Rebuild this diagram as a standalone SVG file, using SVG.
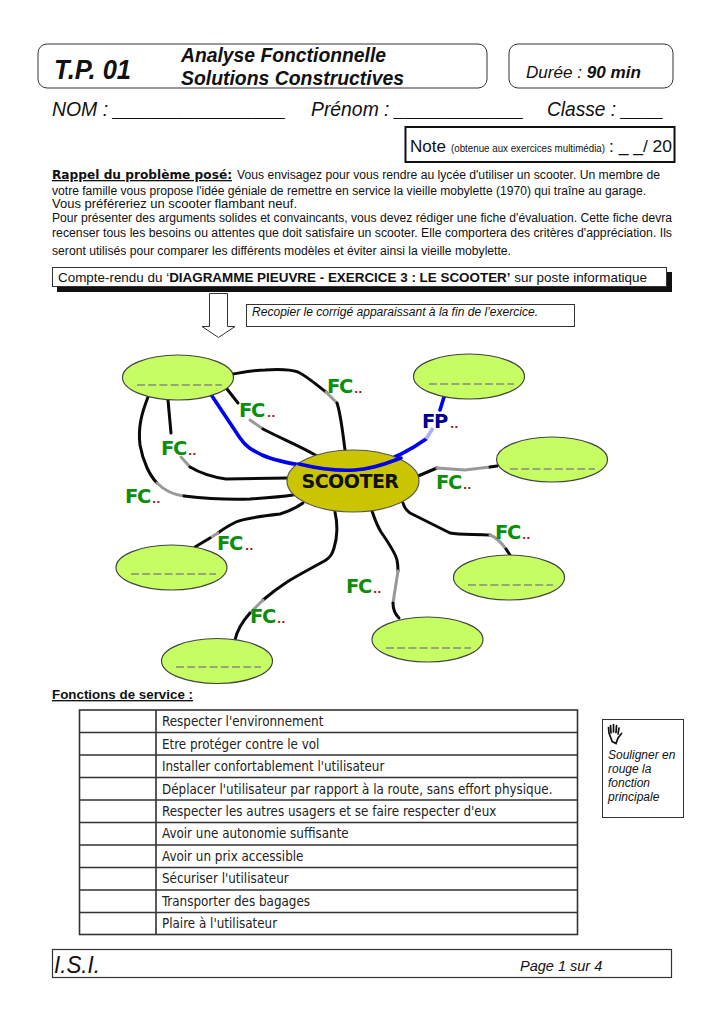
<svg xmlns="http://www.w3.org/2000/svg" width="724" height="1024" viewBox="0 0 724 1024">
<style>
text{font-family:"Liberation Sans",Arial,sans-serif;fill:#111}
.i{font-style:italic}.b{font-weight:bold}
.box{fill:#fff;stroke:#333;stroke-width:1}
.e{fill:#c6fd62;stroke:#444;stroke-width:1.2}
.d{stroke:#888;stroke-width:1.5;stroke-dasharray:8 3.2;fill:none}
.k{fill:none;stroke:#0a0a0a;stroke-width:3;stroke-linecap:round;stroke-linejoin:round}
.g{fill:none;stroke:#999;stroke-width:3;stroke-linecap:round;stroke-linejoin:round}
.bl{fill:none;stroke:#0000f0;stroke-width:3.6;stroke-linecap:round;stroke-linejoin:round}
.lb{fill:none;stroke:#a9b0f8;stroke-width:3.6}
.fc{font-family:"DejaVu Sans",sans-serif;font-weight:bold;font-size:19.5px;letter-spacing:-1.3px;fill:#0a8f0a}
.fp{font-family:"DejaVu Sans",sans-serif;font-weight:bold;font-size:19.5px;letter-spacing:-1.3px;fill:#00008f}
.dots{font-family:"DejaVu Sans",sans-serif;font-weight:bold;font-size:11px;fill:#a01818}
.t{font-family:"DejaVu Sans Condensed","DejaVu Sans",sans-serif;font-size:13.3px;fill:#222}
.row{stroke:#333;stroke-width:1.6;fill:none}
</style>
<rect width="724" height="1024" fill="#fff"/>

<g id="header">
<rect class="box" x="38" y="44" width="449" height="44" rx="9"/>
<rect class="box" x="509" y="44" width="164" height="44" rx="9"/>
<text class="i b" x="54" y="79" font-size="27" textLength="77" lengthAdjust="spacingAndGlyphs">T.P. 01</text>
<text class="i b" x="181" y="62" font-size="21" textLength="205" lengthAdjust="spacingAndGlyphs">Analyse Fonctionnelle</text>
<text class="i b" x="181" y="85" font-size="21" textLength="223" lengthAdjust="spacingAndGlyphs">Solutions Constructives</text>
<text class="i" x="526" y="78" font-size="16" textLength="115" lengthAdjust="spacingAndGlyphs">Durée : <tspan class="b">90 min</tspan></text>
<text class="i" x="52" y="116" font-size="21" textLength="234" lengthAdjust="spacingAndGlyphs">NOM : ________________</text>
<text class="i" x="311" y="116" font-size="21" textLength="213" lengthAdjust="spacingAndGlyphs">Prénom : ____________</text>
<text class="i" x="547" y="116" font-size="21" textLength="117" lengthAdjust="spacingAndGlyphs">Classe : ____</text>
</g>

<g id="note">
<rect x="405.500" y="127" width="269" height="35" fill="#fff" stroke="#111" stroke-width="2"/>
<text x="410" y="152" font-size="17" textLength="36" lengthAdjust="spacingAndGlyphs">Note</text>
<text x="451" y="152" font-size="10.500" textLength="154" lengthAdjust="spacingAndGlyphs">(obtenue aux exercices multimédia)</text>
<text x="609" y="152" font-size="17" textLength="63" lengthAdjust="spacingAndGlyphs">: _ _/ 20</text>
</g>

<g id="intro">
<text x="52" y="179" class="b" style="font-family:'DejaVu Sans',sans-serif" font-size="13" text-decoration="underline" textLength="180" lengthAdjust="spacingAndGlyphs">Rappel du problème posé:</text>
<text x="237" y="179" font-size="12.300" textLength="423" lengthAdjust="spacingAndGlyphs">Vous envisagez pour vous rendre au lycée d'utiliser un scooter. Un membre de</text>
<text x="52" y="195" font-size="12.300" textLength="594" lengthAdjust="spacingAndGlyphs">votre famille vous propose l'idée géniale de remettre en service la vieille mobylette (1970) qui traîne au garage.</text>
<text x="52" y="208" font-size="12.300" textLength="245" lengthAdjust="spacingAndGlyphs">Vous préféreriez un scooter flambant neuf.</text>
<text x="52" y="222" font-size="12.300" textLength="620" lengthAdjust="spacingAndGlyphs">Pour présenter des arguments solides et convaincants, vous devez rédiger une fiche d'évaluation. Cette fiche devra</text>
<text x="52" y="237" font-size="12.300" textLength="620" lengthAdjust="spacingAndGlyphs">recenser tous les besoins ou attentes que doit satisfaire un scooter. Elle comportera des critères d'appréciation. Ils</text>
<text x="52" y="255" font-size="12.300" textLength="459" lengthAdjust="spacingAndGlyphs">seront utilisés pour comparer les différents modèles et éviter ainsi la vieille mobylette.</text>
</g>

<g id="compte-rendu">
<rect x="57" y="272" width="615" height="20" fill="#111"/>
<rect class="box" x="52.500" y="267.500" width="614" height="19"/>
<text x="58" y="282" font-size="13.300" textLength="589" lengthAdjust="spacingAndGlyphs">Compte-rendu du ‘<tspan class="b">DIAGRAMME PIEUVRE - EXERCICE 3 : LE SCOOTER’</tspan> sur poste informatique</text>
</g>

<g id="arrow">
<path d="M209.500 293.500H227.500V326.500H235L218.500 337.500L202 326.500H209.500Z" fill="#fff" stroke="#333" stroke-width="1"/>
</g>

<g id="consigne">
<rect class="box" x="246.500" y="304.500" width="328" height="22" stroke="#666"/>
<text class="i" x="252" y="316" font-size="12" textLength="286" lengthAdjust="spacingAndGlyphs">Recopier le corrigé apparaissant à la fin de l’exercice.</text>
</g>

<g id="connectors">
<path class="k" d="M233 374C245 372 255 370 265 370C280 369 292 370 298 372C308 377 318 386 326 392"/>
<path class="g" d="M326 392L337 403"/>
<path class="k" d="M337 403C341 415 343 435 345 450"/>
<path class="k" d="M227 389L238 403"/>
<path class="g" d="M250 420L263 429"/>
<path class="k" d="M263 429C280 438 300 446 317 456"/>
<path class="k" d="M168 400L171 433"/>
<path class="g" d="M181 457L190 467"/>
<path class="k" d="M190 467C200 473 212 477 226 479L288 478"/>
<path class="k" d="M148 397C141 415 138 428 140 445C143 462 150 476 157 483"/>
<path class="g" d="M157 483C165 491 175 495 184 496"/>
<path class="k" d="M184 496C210 499 225 500 250 499C265 498 280 497 293 495"/>
<path class="k" d="M303 503C296 508 290 511 280 514C262 516 245 518 236 522C228 526 223 529 218 533"/>
<path class="g" d="M218 533L210 538"/>
<path class="k" d="M210 538L195 547"/>
<path class="k" d="M335 512C338 525 338 535 334 548C332 555 330 557 326 560C312 568 298 575 287 582C278 588 270 594 263 600"/>
<path class="g" d="M263 600L250 613"/>
<path class="k" d="M250 613C242 622 237 630 235 640"/>
<path class="k" d="M372 511C375 520 378 527 381 532C388 542 395 552 397 560C398 565 398 568 398 571"/>
<path class="g" d="M398 571L393 603"/>
<path class="k" d="M393 603C393 610 395 614 399 618"/>
<path class="k" d="M403 503C404 507 406 510 410 513L450 533C460 535 475 534 490 535"/>
<path class="g" d="M490 535C498 538 503 545 506 549"/>
<path class="k" d="M506 549L510 555"/>
<path class="k" d="M418 476L437 468"/>
<path class="g" d="M437 468L465 470L490 467"/>
<path class="k" d="M490 467L497 466"/>
<path class="bl" d="M212 396L240 438C246 447 252 450 262 455C280 463 300 465 318 468C340 471 360 469 376 464C396 458 412 449 426 439"/>
<path class="lb" d="M426 439L433 428"/>
<path class="bl" d="M440 410L444 397"/>
</g>

<g id="node-f1"><ellipse class="e" cx="178" cy="377.500" rx="55.500" ry="22.500"/><path class="d" d="M137 385H222"/></g>
<g id="node-f2"><ellipse class="e" cx="469" cy="376.500" rx="55.500" ry="22.500"/><path class="d" d="M429 384H514"/></g>
<g id="node-f3"><ellipse class="e" cx="552" cy="459.500" rx="55.500" ry="22.500"/><path class="d" d="M510 469H595"/></g>
<g id="node-f4"><ellipse class="e" cx="171.500" cy="567.500" rx="55.500" ry="22.500"/><path class="d" d="M131 574H216"/></g>
<g id="node-f5"><ellipse class="e" cx="217" cy="661" rx="55.500" ry="22.500"/><path class="d" d="M176 667H261"/></g>
<g id="node-f6"><ellipse class="e" cx="509" cy="577.500" rx="55.500" ry="22.500"/><path class="d" d="M468 585H553"/></g>
<g id="node-f7"><ellipse class="e" cx="427.500" cy="639.500" rx="55.500" ry="22.500"/><path class="d" d="M386 648H471"/></g>
<g id="node-scooter">
<ellipse cx="353" cy="481" rx="66" ry="31" fill="#cbc400" stroke="#555" stroke-width="1.2"/>
<path class="bl" d="M299 464C320 469 340 471 355 470C375 469 390 462 401 458"/>
<text x="350" y="488" text-anchor="middle" style="font-family:'DejaVu Sans',sans-serif;fill:#111" class="b" font-size="19" letter-spacing="-0.500">SCOOTER</text>
</g>

<g id="labels">
<text class="fc" x="327" y="393">FC</text><text class="dots" x="354" y="393">..</text>
<text class="fc" x="239" y="417">FC</text><text class="dots" x="267" y="417">..</text>
<text class="fc" x="161" y="455">FC</text><text class="dots" x="188" y="455">..</text>
<text class="fc" x="125" y="503">FC</text><text class="dots" x="152" y="503">..</text>
<text class="fp" x="422" y="428">FP</text><text class="dots" x="450" y="428">..</text>
<text class="fc" x="436" y="489">FC</text><text class="dots" x="463" y="489">..</text>
<text class="fc" x="217" y="550">FC</text><text class="dots" x="245" y="550">..</text>
<text class="fc" x="250" y="623">FC</text><text class="dots" x="277" y="623">..</text>
<text class="fc" x="346" y="593">FC</text><text class="dots" x="373" y="593">..</text>
<text class="fc" x="495" y="539">FC</text><text class="dots" x="522" y="539">..</text>
</g>

<g id="fonctions">
<text class="b" x="52" y="699" font-size="13.500" text-decoration="underline" textLength="141" lengthAdjust="spacingAndGlyphs">Fonctions de service :</text>
<rect class="row" x="79.500" y="710" width="498" height="224.500"/>
<path class="row" d="M156 710V934.500M79 732.500H578M79 755H578M79 777.500H578M79 800H578M79 822.500H578M79 845H578M79 867.500H578M79 890H578M79 912.500H578"/>
<text class="t" x="162" y="726">Respecter l'environnement</text>
<text class="t" x="162" y="749">Etre protéger contre le vol</text>
<text class="t" x="162" y="771">Installer confortablement l'utilisateur</text>
<text class="t" x="162" y="794">Déplacer l'utilisateur par rapport à la route, sans effort physique.</text>
<text class="t" x="162" y="816">Respecter les autres usagers et se faire respecter d'eux</text>
<text class="t" x="162" y="838">Avoir une autonomie suffisante</text>
<text class="t" x="162" y="861">Avoir un prix accessible</text>
<text class="t" x="162" y="883">Sécuriser l'utilisateur</text>
<text class="t" x="162" y="906">Transporter des bagages</text>
<text class="t" x="162" y="928">Plaire à l'utilisateur</text>
</g>

<g id="aide">
<rect class="box" x="602.500" y="719.500" width="81" height="98" stroke="#666"/>
<path d="M612 741L609 733L608.500 727.500M611 733L610.500 725.500M613.500 732L613.500 724.500M616 732.500L616.500 725.500M618 734L619 728M612 741.500L616 743.500L618 738L621.500 733.500" fill="none" stroke="#111" stroke-width="1.700" stroke-linecap="round"/>
<text class="i" font-size="12"><tspan x="608" y="759">Souligner en</tspan><tspan x="608" y="773">rouge la</tspan><tspan x="608" y="787">fonction</tspan><tspan x="608" y="801">principale</tspan></text>
</g>

<g id="footer">
<rect x="52.500" y="949.500" width="619" height="28" fill="#fff" stroke="#333" stroke-width="1.200"/>
<text class="i" x="54" y="973" font-size="23" textLength="46" lengthAdjust="spacingAndGlyphs">I.S.I.</text>
<text class="i" x="520" y="971" font-size="14.500">Page 1 sur 4</text>
</g>
</svg>
